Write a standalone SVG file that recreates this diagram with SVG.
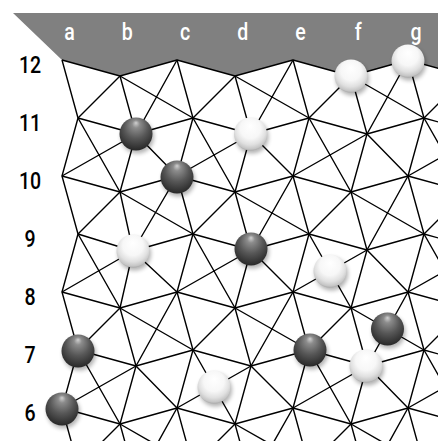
<svg xmlns="http://www.w3.org/2000/svg" width="438" height="441" viewBox="0 0 438 441">
<style>
.ln{fill:none;stroke:#000;stroke-width:1.4;stroke-linejoin:round}
.col{font-family:Roboto,"Liberation Sans",sans-serif;font-size:23px;font-weight:500;fill:#fff;text-anchor:middle}
.row{font-family:Roboto,"Liberation Sans",sans-serif;font-size:23px;font-weight:500;fill:#000;text-anchor:middle}
.sh{fill:#000;opacity:.3;filter:url(#blur)}
.bk{fill:url(#gb)}
.wh{fill:url(#gw)}
</style>
<defs>
<radialGradient id="gb" cx="50%" cy="38%" r="65%" fx="50%" fy="16%">
<stop offset="0" stop-color="#d0d0d0"/>
<stop offset="0.18" stop-color="#8c8c8c"/>
<stop offset="0.55" stop-color="#575757"/>
<stop offset="1" stop-color="#242424"/>
</radialGradient>
<radialGradient id="gw" cx="50%" cy="40%" r="62%" fx="50%" fy="25%">
<stop offset="0" stop-color="#ffffff"/>
<stop offset="0.5" stop-color="#f7f7f7"/>
<stop offset="0.75" stop-color="#e0e0e0"/>
<stop offset="0.92" stop-color="#c4c4c4"/>
<stop offset="1" stop-color="#9c9c9c"/>
</radialGradient>
<filter id="blur" x="-50%" y="-50%" width="200%" height="200%"><feGaussianBlur stdDeviation="2.2"/></filter>
</defs>
<rect width="438" height="441" fill="#fff"/>
<polygon id="frame" points="13,13 438,13 438,68.3 408,60 351,76 293,60 235,76 177,60 120,76 62,60" fill="#808080"/>
<g id="labels">
<text class="col" transform="translate(69.5,40) scale(0.85,1)">a</text>
<text class="col" transform="translate(127.3,40) scale(0.85,1)">b</text>
<text class="col" transform="translate(185,40) scale(0.85,1)">c</text>
<text class="col" transform="translate(242.8,40) scale(0.85,1)">d</text>
<text class="col" transform="translate(300.5,40) scale(0.85,1)">e</text>
<text class="col" transform="translate(358.3,40) scale(0.85,1)">f</text>
<text class="col" transform="translate(416,40) scale(0.85,1)">g</text>
<text class="row" transform="translate(30,73) scale(0.85,1)">12</text>
<text class="row" transform="translate(30,131) scale(0.85,1)">11</text>
<text class="row" transform="translate(30,189) scale(0.85,1)">10</text>
<text class="row" transform="translate(30,247) scale(0.85,1)">9</text>
<text class="row" transform="translate(30,305) scale(0.85,1)">8</text>
<text class="row" transform="translate(30,363) scale(0.85,1)">7</text>
<text class="row" transform="translate(30,421) scale(0.85,1)">6</text>
</g>
<g id="connectors" class="ln">
<path d="M62,60 L120,76 L177,60 L235,76 L293,60 L351,76 L408,60 L466,76
M78,118 L136,134 L193,118 L251,134 L309,118 L367,134 L424,118 L482,134
M62,176 L120,192 L177,176 L235,192 L293,176 L351,192 L408,176 L466,192
M78,234 L133,251 L193,234 L251,250 L309,234 L367,250 L424,234 L482,250
M62,292 L120,308 L177,292 L235,308 L293,292 L351,308 L408,292 L466,308
M78,350 L136,366 L193,350 L251,366 L309,350 L367,366 L424,350 L482,366
M62,408 L120,424 L177,408 L235,424 L293,408 L351,424 L408,408 L466,424"/>
<path d="M62,60 L78,118 L62,176 L78,234 L62,292 L78,350 L62,408 L78,466
M120,76 L136,134 L120,192 L133,251 L120,308 L136,366 L120,424 L136,482
M177,60 L193,118 L177,176 L193,234 L177,292 L193,350 L177,408 L193,466
M235,76 L251,134 L235,192 L251,250 L235,308 L251,366 L235,424 L251,482
M293,60 L309,118 L293,176 L309,234 L293,292 L309,350 L293,408 L309,466
M351,76 L367,134 L351,192 L367,250 L351,308 L367,366 L351,424 L367,482
M408,60 L424,118 L408,176 L424,234 L408,292 L424,350 L408,408 L424,466"/>
<path d="M120,76 L78,118 M120,76 L193,118 M177,60 L136,134 M235,76 L193,118 M235,76 L309,118 M293,60 L251,134 M351,76 L309,118 M351,76 L424,118 M408,60 L367,134 M466,76 L424,118
M78,118 L120,192 M136,134 L62,176 M136,134 L177,176 M193,118 L235,192 M251,134 L177,176 M251,134 L293,176 M309,118 L351,192 M367,134 L293,176 M367,134 L408,176 M424,118 L466,192 M482,134 L408,176
M120,192 L78,234 M120,192 L193,234 M177,176 L133,251 M235,192 L193,234 M235,192 L309,234 M293,176 L251,250 M351,192 L309,234 M351,192 L424,234 M408,176 L367,250 M466,192 L424,234
M78,234 L120,308 M133,251 L62,292 M133,251 L177,292 M193,234 L235,308 M251,250 L177,292 M251,250 L293,292 M309,234 L351,308 M367,250 L293,292 M367,250 L408,292 M424,234 L466,308 M482,250 L408,292
M120,308 L78,350 M120,308 L193,350 M177,292 L136,366 M235,308 L193,350 M235,308 L309,350 M293,292 L251,366 M351,308 L309,350 M351,308 L424,350 M408,292 L367,366 M466,308 L424,350
M78,350 L120,424 M136,366 L62,408 M136,366 L177,408 M193,350 L235,424 M251,366 L177,408 M251,366 L293,408 M309,350 L351,424 M367,366 L293,408 M367,366 L408,408 M424,350 L466,424 M482,366 L408,408
M120,424 L78,466 M120,424 L193,466 M177,408 L136,482 M235,424 L193,466 M235,424 L309,466 M293,408 L251,482 M351,424 L309,466 M351,424 L424,466 M408,408 L367,482 M466,424 L424,466"/>
</g>
<g id="stone-f12"><circle class="sh" cx="352.5" cy="79" r="16.5"/><circle class="wh" cx="351" cy="76" r="16.5"/></g>
<g id="stone-g12"><circle class="sh" cx="409.5" cy="64" r="16.5"/><circle class="wh" cx="408" cy="61" r="16.5"/></g>
<g id="stone-b11"><circle class="sh" cx="137.5" cy="137" r="16.5"/><circle class="bk" cx="136" cy="134" r="16.5"/></g>
<g id="stone-d11"><circle class="sh" cx="252" cy="137" r="16.5"/><circle class="wh" cx="250.5" cy="134" r="16.5"/></g>
<g id="stone-c10"><circle class="sh" cx="178.5" cy="180" r="16.5"/><circle class="bk" cx="177" cy="177" r="16.5"/></g>
<g id="stone-b9"><circle class="sh" cx="134.5" cy="254" r="16.5"/><circle class="wh" cx="133" cy="251" r="16.5"/></g>
<g id="stone-d9"><circle class="sh" cx="252.5" cy="252" r="16.5"/><circle class="bk" cx="251" cy="249" r="16.5"/></g>
<g id="stone-ef9"><circle class="sh" cx="331.5" cy="274" r="16.5"/><circle class="wh" cx="330" cy="271" r="16.5"/></g>
<g id="stone-fg8"><circle class="sh" cx="389" cy="332" r="16.5"/><circle class="bk" cx="387.5" cy="329" r="16.5"/></g>
<g id="stone-a7"><circle class="sh" cx="79.5" cy="354" r="16.5"/><circle class="bk" cx="78" cy="351" r="16.5"/></g>
<g id="stone-e7"><circle class="sh" cx="311.5" cy="353" r="16.5"/><circle class="bk" cx="310" cy="350" r="16.5"/></g>
<g id="stone-f7"><circle class="sh" cx="367.5" cy="369" r="16.5"/><circle class="wh" cx="366" cy="366" r="16.5"/></g>
<g id="stone-cd7"><circle class="sh" cx="215.5" cy="390" r="16.5"/><circle class="wh" cx="214" cy="387" r="16.5"/></g>
<g id="stone-a6"><circle class="sh" cx="63.5" cy="412" r="16.5"/><circle class="bk" cx="62" cy="409" r="16.5"/></g>
</svg>
